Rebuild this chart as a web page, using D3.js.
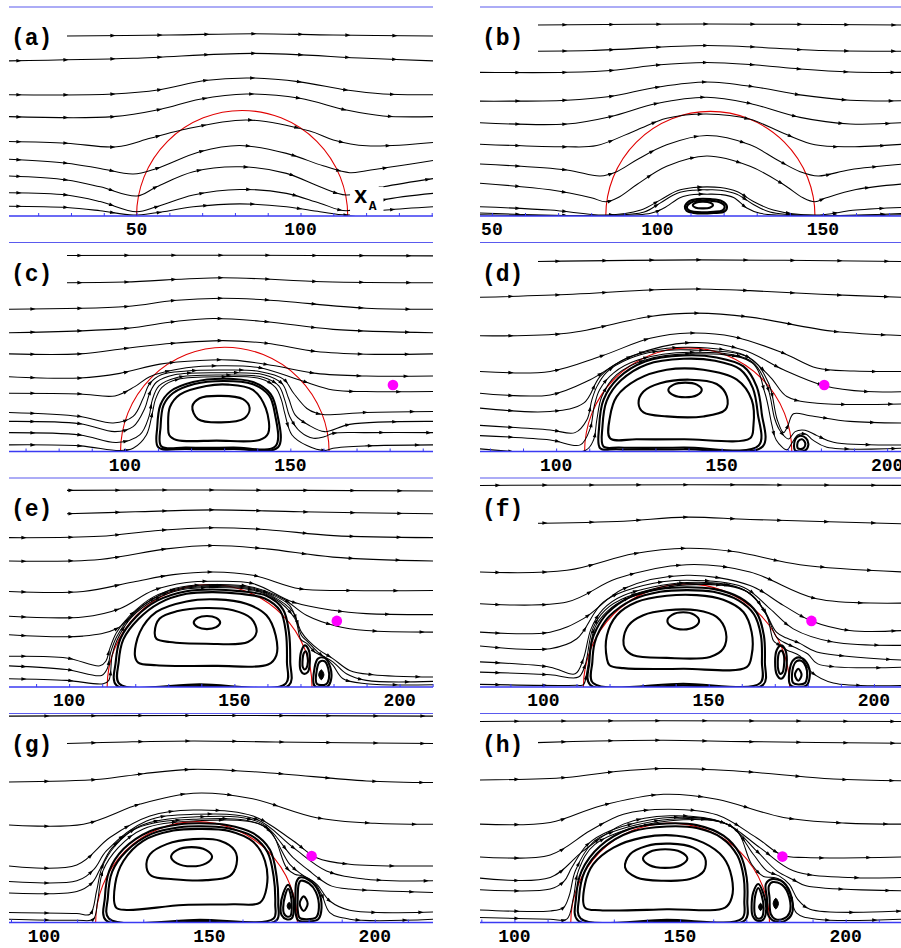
<!DOCTYPE html>
<html><head><meta charset="utf-8">
<script src="https://cdn.jsdelivr.net/npm/d3@7"></script>
<style>body{margin:0;background:#fff}svg{display:block}</style>
</head><body>
<svg id="chart" width="901" height="948"></svg>
<script>
// ---------------- data ----------------
const panelLabels = ["(a)","(b)","(c)","(d)","(e)","(f)","(g)","(h)"];
const xDomains = [[11.1,140.4],[46.4,174.5],[65.0,193.1],[77.0,205.1],[81.8,210.1],[80.8,209.1],[89.4,217.6],[89.6,217.6]];
const tickLabels = [[50,100],[50,100,150],[100,150],[100,150,200],[100,150,200],[100,150,200],[100,150,200],[100,150,200]];
const circleX = [82.2,116.0,130.2,139.9,142.5,143.3,146.1,147.0];
const circleR = [32.2,31.6,31.5,31.3,31.0,31.2,30.5,30.0];
const dotX = [null,null,181.0,181.0,181.0,181.1,180.9,180.9];
const dotY = [null,null,20.1,20.1,20.0,20.0,20.1,19.9];

const streamA = [
 [[28.7,54.9],[60,55.2],[85.6,55.6],[110,55.2],[140.4,54.9]],
 [[11.1,47.3],[49,48.1],[85.6,49.6],[120,48.1],[140.4,47.3]],
 [[11.1,37.0],[42.9,37.2],[57,38.5],[70.8,41.3],[84.6,42.1],[99.8,40.9],[114,38.4],[125.2,37.2],[140.4,37.0]],
 [[11.1,30.3],[42.9,30.3],[57.1,32.5],[69.3,35.6],[83.5,37.2],[99.8,35.9],[114,32.3],[125.2,30.5],[140.4,30.3]],
 [[11.1,22.7],[28.7,22.2],[43.9,21.1],[54.1,23.7],[63.2,26.1],[83.5,29.3],[102.8,25.9],[110,23.2],[120.1,21.4],[140.4,22.4]],
 [[11.1,17.3],[28.7,16.1],[38.9,14.5],[49,12.8],[56.1,14.5],[69.3,19.6],[81.5,21.5],[95.7,19.1],[106.9,15.3],[115,13.2],[120.1,13.8],[140.4,16.9]],
 [[11.1,12.2],[28.7,11.0],[38.9,8.9],[50.1,6.1],[56.1,8.9],[67.3,13.5],[81.5,15.0],[95.7,13.0],[105.9,8.9],[114,6.4],[125.2,8.9],[140.4,11.4]],
 [[11.1,7.1],[28.7,6.4],[38.9,4.4],[50,1.3],[56.1,2.8],[67.3,6.4],[81.5,8.1],[95.7,6.9],[105.9,3.9],[114,1.6],[125.2,4.9],[140.4,6.9]],
 [[11.1,3.0],[28.7,2.6],[38.9,1.6],[49,0.3],[56.1,1.0],[67.3,2.8],[81.5,3.7],[95.7,2.8],[105.9,1.3],[114,0.3],[126.2,1.8],[140.4,2.8]]
];
const loopsA = [];
const blobsA = [];

const streamB = [
 [[63.5,57.7],[115,58.0],[174.5,57.7]],
 [[46.4,49.8],[80,50.0],[115,51.5],[150,50.0],[174.5,49.8]],
 [[46.4,43.4],[72.6,43.4],[87.7,44.1],[99.8,45.6],[114.9,46.4],[130,45.6],[143.1,44.4],[158.2,43.5],[174.5,43.4]],
 [[46.4,34.7],[72.6,35.0],[85.7,36.1],[99.8,38.9],[114.9,40.5],[130,38.9],[143.1,36.6],[158.2,35.0],[174.5,34.8]],
 [[46.4,28.2],[72.6,27.8],[85.7,30.0],[99.8,34.0],[114.9,35.9],[128,34.0],[143.1,29.8],[158.2,27.8],[174.5,28.2]],
 [[46.4,21.7],[72.6,20.9],[81.7,21.3],[93.8,26.0],[102.8,29.5],[114.9,30.8],[128,29.2],[138.1,25.0],[147.6,21.5],[158.2,20.9],[174.5,21.7]],
 [[46.4,15.7],[72.6,13.9],[82.7,12.1],[87.7,13.4],[93.8,17.0],[102.8,21.5],[114.9,24.3],[128,21.5],[136.1,17.0],[143.1,13.4],[148.6,12.1],[158.2,14.0],[174.5,15.7]],
 [[46.4,9.9],[67.6,7.9],[80,5.5],[84.4,4.3],[88,5.5],[93.8,9.5],[102.8,15.0],[114.9,18.1],[128,15.0],[138.1,9.5],[144,5.5],[147.6,4.3],[151,5.5],[160,8.0],[174.5,9.7]],
 [[46.4,2.8],[67.6,1.8],[84.4,0.3],[95,1.8],[100.8,4.8],[106,7.6],[111,8.6],[115,8.8],[119,8.6],[124,7.4],[129,4.4],[135,1.8],[147.6,0.3],[160,1.8],[174.5,2.6]],
 [[46.4,0.9],[84.4,0.15],[96,1.2],[100.8,3.9],[106,6.9],[111,7.8],[115,7.9],[119,7.8],[124,6.6],[129,3.5],[134,1.2],[147.6,0.15],[174.5,0.8]],
 [[46.4,0.4],[84.4,0.1],[98,0.8],[102,2.4],[107,5.6],[111,6.5],[115,6.6],[119,6.5],[123,5.6],[127,2.4],[131,0.8],[147.6,0.1],[174.5,0.4]]
];
const loopsB = [
 [[108.3,2.8],[109.5,4.4],[112,5.1],[116,5.1],[119.5,4.5],[121,3.0],[120.3,1.4],[117,0.9],[111,0.9],[108.8,1.6]],
 [[108.9,2.8],[110,4.0],[112.2,4.6],[116,4.6],[119,4.1],[120.3,3.0],[119.7,1.7],[117,1.3],[111,1.3],[109.3,1.9]],
 [[110.7,3.3],[111.8,4.1],[113.8,4.3],[116,4.0],[116.8,3.3],[115.8,2.5],[113.8,2.3],[111.6,2.5]]
];
const blobsB = [];

const streamC = [
 [[82.4,59.2],[129.2,59.3],[193.1,59.1]],
 [[82.4,51.0],[100,51.2],[129.2,52.5],[160,51.3],[193.1,51.0]],
 [[65,43.0],[100.5,43.8],[114.6,45.6],[129.2,46.3],[142.8,45.8],[172.9,43.3],[193.1,43.0]],
 [[65,35.9],[100.5,37.2],[114.6,39.2],[126.7,40.2],[142.8,39.2],[162.9,36.9],[193.1,35.9]],
 [[65,29.5],[86.4,29.5],[100.5,31.2],[114.6,32.7],[129.7,33.5],[142.8,32.7],[157.8,30.2],[172.9,29.4],[193.1,29.5]],
 [[65,22.6],[86.4,22.2],[98.5,23.6],[110.6,26.4],[122.6,27.5],[132.7,27.6],[144.8,26.0],[157.8,23.6],[172.9,22.8],[193.1,22.8]],
 [[65,17.6],[86.4,17.4],[97,16.8],[103,19.6],[107.5,22.6],[118.6,25.3],[129.2,25.9],[140.7,25.3],[152.8,21.6],[162.9,18.6],[172.9,18.1],[193.1,18.1]],
 [[65,11.8],[86.4,10.6],[96.5,8.6],[102.5,10.6],[105.5,16],[107.5,20.5],[111,23.2],[118.6,24.3],[129.2,24.6],[140.7,24.2],[148,21.8],[151,17.6],[155,13],[157.8,11.6],[160.4,11.1],[172.9,11.8],[193.1,12.1]],
 [[65,9.1],[86.4,8.4],[97,6.0],[102.5,7.5],[106,13],[107.5,17.6],[109.6,21],[115,23.2],[129.2,23.8],[142,23.2],[147.5,20.5],[149.5,16],[151.5,11],[155.5,8.0],[160.4,6.0],[167.9,8.2],[193.1,9.1]],
 [[65,5.7],[86.4,5.0],[97.5,2.7],[104.5,5.0],[107.3,10.6],[108.3,15.6],[110.3,19.8],[115.5,22.3],[129.2,23.1],[141.5,22.5],[146.5,19.8],[148.3,15.6],[149.8,10.6],[153,6.0],[157,4.0],[160.4,4.5],[162.9,5.5],[172.9,5.7],[193.1,5.7]],
 [[65,2.0],[86.4,1.7],[98.5,0.3],[102.5,1.0],[106.5,5.0],[108.3,11.6],[109.2,15.6],[111.2,19.4],[116,21.8],[129.2,22.6],[141,22.0],[145.5,19.4],[147.3,15.6],[148.3,11.6],[150.5,5.0],[155,1.8],[160.4,0.3],[162.9,1.0],[172.9,1.7],[193.1,2.0]]
];
const loopsC = [
 [[110.1,1.3],[109.8,7.5],[110.8,14.2],[113.8,18.2],[120.6,21.0],[130.0,22.0],[138.7,21.0],[144.0,17.4],[146.0,11.6],[146.3,1.3],[132.7,0.8],[118.6,0.8]],
 [[111,1.6],[110.8,7.5],[111.7,14.0],[114.5,17.6],[121,20.4],[130.0,21.3],[138.5,20.4],[143.5,17.0],[145.3,11.6],[145.5,1.6],[132.7,1.2],[118.6,1.2]],
 [[113.1,7.5],[113.6,13.4],[116.6,17.2],[124.6,19.8],[131.2,20.2],[138.7,18.6],[142.6,13.0],[143.3,5.5],[140.7,3.5],[127.7,3.3],[115.6,3.5],[113.4,5.0]],
 [[120.4,13.6],[122.6,16.1],[129.1,16.8],[135.7,15.8],[137.7,13.1],[136.2,10.1],[129.1,8.8],[122.1,9.8]]
];
const blobsC = [];

const streamD = [
 [[94.2,57.4],[142.5,57.9],[205.1,57.4]],
 [[77.0,46.6],[105,47.5],[128.4,48.8],[142.5,49.1],[158.6,48.6],[180,47.5],[205.1,46.6]],
 [[77,35.0],[103.2,35.7],[128.4,40.8],[142.5,41.8],[158.6,40.6],[183.8,36.3],[205.1,35.0]],
 [[77,24.2],[98.2,24.2],[113.3,28.7],[128.4,34.2],[140.5,35.8],[153.6,34.7],[168.7,29.7],[178.8,25.2],[190,24.3],[205.1,24.2]],
 [[77,17.6],[98.2,17.1],[110.3,21.7],[122.4,28.7],[140.5,32.9],[156.6,30.7],[168.7,24.7],[181.0,19.9],[193.9,18.1],[205.1,18.1]],
 [[77,13.1],[98.2,12.1],[108.3,14.6],[113.3,22.7],[120,27.5],[128,30.3],[140.5,31.5],[156.6,29.2],[164.7,22.5],[169.7,16.6],[178.8,14.6],[205.1,14.4]],
 [[77,7.9],[98.2,6.5],[105.7,5.7],[109.3,9.6],[110.8,15.6],[112.3,19.6],[115.3,24.0],[122,28.0],[130,30.2],[140.5,30.7],[158.6,28.2],[164.2,20.6],[166.8,9.6],[168.7,5.7],[169.9,7.5],[171.7,11.4],[176.7,10.8],[188.8,9.1],[205.1,8.6]],
 [[77,4.8],[98.2,3.5],[107.3,2.0],[110.3,7.0],[111.5,13.6],[113.1,18.6],[117.3,23.7],[124.9,27.7],[140.5,30.0],[158.6,27.5],[163.8,19.6],[166.0,10],[167.5,6.5],[170.2,3.8],[172.2,6.0],[175.2,6.4],[178.8,4.8],[183.8,2.8],[205.1,2.0]],
 [[77,0.8],[108.8,0.3],[111.3,3.5],[112.3,9.6],[113.8,16.6],[118.3,23.2],[126.4,27.5],[140.5,29.5],[159.1,26.9],[163.1,17.6],[165.2,8],[166.5,3.5],[169.7,0.5],[171.2,2.5],[173,5.0],[175.5,5.2],[177.5,3.5],[181.8,1.3],[205.1,1.0]]
];
const loopsD = [
 [[113.3,1.0],[113.0,7.6],[114.3,15.6],[118.8,22.2],[126.9,27.2],[138.5,29.0],[148.5,28.4],[156.6,25.7],[160.6,19.6],[162.1,11.6],[162.4,1.5],[138.5,0.7],[118.3,0.7]],
 [[114.3,1.5],[114.0,7.6],[115.3,15.4],[119.6,21.5],[127.4,26.3],[138.5,28.0],[148,27.4],[155.6,24.8],[159.4,19.2],[160.9,11.6],[161.2,1.8],[138.5,1.2],[119,1.2]],
 [[116.3,4.0],[116.3,10.6],[118.3,16.6],[124.4,21.7],[133.4,24.7],[144.5,24.7],[154.6,21.7],[159.1,15.6],[159.6,7.6],[158.6,4.0],[138.5,3.7],[124.4,3.7]],
 [[124.9,14.6],[126.4,18.1],[131.4,20.6],[140.5,21.7],[148.5,20.4],[151.6,16.6],[151.1,12.6],[144.5,10.6],[133.4,10.6],[126.4,11.8]],
 [[133.9,18.6],[135.5,20.2],[139,20.8],[142.5,20.2],[144,18.6],[142.5,17.0],[139,16.4],[135.5,17.0]],
 [[172.2,0.3],[172.2,3.5],[173.5,4.7],[175.5,4.0],[176.2,2.0],[175.2,0.3]],
 [[173.0,1.0],[173.1,3.0],[174.3,3.7],[175.3,2.4],[174.6,0.9]]
];
const blobsD = [];

const streamE = [
 [[99.2,59.5],[143.5,59.6],[210.1,59.3]],
 [[99.2,52.4],[120,53.0],[143.5,53.6],[170,53.0],[210.1,52.4]],
 [[81.8,45.2],[109.3,45.6],[126,47.3],[143.5,48.2],[160,47.6],[180,45.8],[210.1,45.2]],
 [[81.8,38.1],[109.3,38.6],[129.4,41.8],[143.5,42.8],[159.7,41.8],[179.8,39.3],[210.1,38.1]],
 [[81.8,28.9],[104.2,28.9],[119.4,31.8],[131.5,34.0],[143.5,34.8],[155.6,33.8],[169.8,29.7],[184.9,29.2],[210.1,29.2]],
 [[81.8,21.4],[104.2,21.2],[115.3,23.7],[125.4,29.2],[135.5,31.6],[143.5,32.0],[155.6,31.3],[167.7,25.7],[179.8,23.2],[189.9,22.2],[210.1,21.9]],
 [[81.8,15.8],[104.2,15.4],[114.3,17.6],[122.4,24.7],[131.5,29.7],[143.5,31.0],[155.6,30.2],[164.7,26.7],[171.8,21.7],[181.0,18.4],[189.9,17.1],[210.1,16.6]],
 [[81.8,9.3],[99.2,8.8],[109.3,6.4],[111.1,7.8],[112.3,11.6],[114.3,16.4],[118.3,21.5],[125.4,27.2],[134,30.0],[143.5,30.7],[155,30.0],[161.2,28.0],[166.7,24.7],[170.3,16.6],[172.3,14.1],[175.8,11.1],[179.8,8.6],[184.9,5.0],[191.9,3.7],[210.1,3.0]],
 [[81.8,6.4],[99.2,5.3],[109.8,3.5],[111.5,5.5],[112.6,10.6],[114.5,15.4],[119.4,22.2],[126,27.0],[134,29.7],[143.5,30.4],[155,29.7],[161.5,27.5],[167.7,22.7],[170.3,15.6],[172.3,13.6],[175.8,10.1],[179.8,7.6],[183.9,4.0],[189.9,2.0],[210.1,1.7]],
 [[81.8,2.5],[99.2,2.0],[110.3,1.0],[112.0,2.0],[113.0,9.6],[114.4,14.0],[118.8,21.0],[126,26.5],[134,29.4],[143.5,30.1],[155,29.4],[161.8,27.0],[168.3,20.7],[170.1,14.4],[172.0,13.1],[174.3,10.6],[177.3,9.0],[179.8,6.6],[182.9,2.5],[189.9,1.0],[210.1,0.7]]
];
const loopsE = [
 [[114.3,0.5],[114.1,7.6],[115.5,14.6],[120.2,21.2],[126.8,26.2],[135.5,29.0],[143.5,29.5],[151.6,29.0],[159.7,27.6],[164.7,23.5],[166.5,16.6],[166.9,7.6],[166.5,0.5],[139.5,0.3]],
 [[115.2,1.0],[115.0,7.6],[116.4,14.4],[120.9,20.5],[127.3,25.4],[135.5,28.2],[143.5,28.7],[151.6,28.2],[159.2,26.8],[163.9,23],[165.6,16.4],[165.9,7.6],[165.5,1.0],[139.5,0.8]],
 [[119.9,9.6],[121.4,16.6],[126.4,22.7],[135.5,25.9],[144.6,26.5],[153.6,25.2],[159.7,21.7],[162.5,15.6],[162.7,9.6],[160.2,6.8],[144.6,6.4],[126.4,6.6],[120.9,7.4]],
 [[125.9,16.6],[127.4,20.7],[132.5,22.9],[141.5,23.9],[149.6,23.2],[155.1,20.7],[156.7,16.6],[154.1,13.6],[141.5,13.1],[130.4,13.6],[126.4,14.6]],
 [[137.7,19.5],[138.9,20.9],[141.7,21.5],[144.5,20.9],[145.7,19.5],[144.5,18.1],[141.7,17.5],[138.9,18.1]],
 [[169.8,7.5],[170.3,11.0],[171.3,12.6],[172.5,11.2],[172.8,7.0],[172.2,4.5],[171.0,4.0],[170.0,5.2]],
 [[170.6,7.6],[171,10.2],[171.6,10.8],[172.1,9.5],[172.1,6.5],[171.3,5.3],[170.7,6.0]],
 [[174.3,0.3],[174.3,6.0],[175.3,8.6],[177.3,8.8],[179.0,6.0],[179.3,2.5],[178.3,0.3]],
 [[175.0,0.9],[175.0,5.5],[175.8,7.6],[177.3,7.8],[178.4,5.6],[178.6,2.5],[177.8,0.9]]
];
const blobsE = [
 [[175.5,3.7],[176.3,5.2],[177.1,3.7],[176.3,2.2]]
];

const streamF = [
 [[80.8,61.0],[143.3,61.2],[209.1,61.0]],
 [[80.8,49.4],[122.2,50.1],[143.3,51.4],[162.5,50.7],[209.1,49.4]],
 [[80.8,34.8],[107.1,35.3],[127.2,40.3],[143.3,42.0],[157.5,41.0],[177.6,37.0],[209.1,34.8]],
 [[80.8,25.2],[107.1,25.7],[122.2,32.8],[143.3,37.0],[162.5,34.8],[182.7,26.7],[209.1,25.4]],
 [[80.8,16.6],[102.0,16.6],[112.1,20.7],[124.2,29.7],[143.3,33.8],[162.5,30.7],[172.6,24.7],[181.1,20.0],[192.7,17.1],[209.1,17.1]],
 [[80.8,12.4],[102,11.6],[110.1,14.6],[118.1,25.7],[130.2,30.7],[143.3,32.3],[160.5,30.2],[168.5,23.7],[175.6,17.6],[187.7,13.6],[209.1,12.6]],
 [[80.8,7.6],[102,6.0],[109.6,4.0],[112.1,8.6],[114.4,17.6],[118,23.5],[124.2,27.7],[143.3,31.6],[160.5,29.5],[166.5,23.7],[170.5,16.6],[173.6,14.8],[177.6,13.2],[182.7,10.6],[209.1,8.1]],
 [[80.8,4.5],[102,3.7],[110.6,3.0],[112.6,6.6],[114.9,17.6],[118.6,23.2],[125.2,27.2],[143.3,31.3],[161,29.2],[167,22.7],[170.6,15.0],[172.6,13.6],[176,12.0],[180,10.0],[183,7.0],[209.1,6.0]],
 [[80.8,0.8],[110.1,0.5],[112.1,0.7],[113.3,5.5],[115.4,17.6],[119.2,22.8],[125.7,26.9],[143.3,30.9],[161.5,28.9],[167.5,21.7],[169.6,14.0],[171,12.9],[173.6,11.2],[177.6,9.4],[181.1,4.5],[187.7,1.2],[209.1,0.5]]
];
const loopsF = [
 [[114.1,0.7],[113.9,7.6],[114.6,13.6],[116.1,17.6],[119.2,22.2],[126.2,27.2],[135.3,29.7],[143.3,30.2],[151.4,29.7],[159.5,27.0],[164.5,22.5],[166.7,15.6],[167.0,7.6],[166.5,0.7],[142.3,0.5]],
 [[115,1.2],[114.8,7.6],[115.5,13.4],[117,17.2],[120,21.5],[126.8,26.3],[135.3,28.8],[143.3,29.3],[151.4,28.8],[159,26.2],[163.7,22],[165.8,15.6],[166.1,7.6],[165.6,1.2],[142.3,1.0]],
 [[119.2,8.6],[119.2,15.6],[122.2,21.7],[128.2,25.7],[137.3,27.6],[146.4,27.8],[154.4,26.4],[160.5,22.7],[163.0,16.6],[163.0,9.6],[161.5,6.0],[142.3,5.5],[124.2,5.7],[120.0,6.6]],
 [[124.2,14.1],[125.7,18.6],[130.2,21.7],[137.3,23.2],[146.4,23.2],[152.4,21.2],[155.2,16.6],[154.4,11.6],[150.4,9.1],[137.3,8.8],[127.2,9.6],[124.7,11.6]],
 [[137.5,20.0],[138.9,21.8],[142.3,22.6],[145.7,21.8],[147.1,20.0],[145.7,18.2],[142.3,17.4],[138.9,18.2]],
 [[170.1,7.6],[170.6,11.2],[171.9,12.6],[173.2,11.2],[173.6,6.6],[172.9,3.5],[171.9,2.5],[170.6,3.8]],
 [[170.9,7.6],[171.3,10.4],[172,11],[172.7,9.8],[172.8,6.6],[172.3,4.3],[171.6,4.0],[171.1,5.0]],
 [[174.8,0.5],[174.8,6.6],[176.1,8.6],[178.1,8.8],[180.1,6.6],[180.6,3.5],[179.6,0.5]],
 [[175.6,1.2],[175.6,6.2],[176.6,7.8],[178.1,7.9],[179.4,6.2],[179.8,3.5],[179.1,1.2]],
 [[176.1,3.7],[177.1,5.5],[178.1,3.7],[177.1,1.9]]
];
const blobsF = [];

const streamG = [
 [[89.4,62.4],[145.1,62.6],[217.6,62.4]],
 [[106.8,54.1],[125,54.6],[145.1,54.9],[170,54.6],[217.6,54.1]],
 [[89.4,42.5],[116.9,43.3],[130,45],[145.1,46.3],[167.3,45.3],[197.5,42.8],[217.6,42.3]],
 [[89.4,29.5],[111.9,29.7],[129.0,35.8],[145.1,39.1],[162.2,37.6],[182.4,31.7],[200,30],[217.6,29.7]],
 [[89.4,17.1],[109.9,17.4],[119.9,25.7],[132.0,32.2],[145.1,34.0],[163.2,32.2],[175.3,24.7],[182.4,19.6],[192.4,17.6],[217.6,17.1]],
 [[89.4,12.4],[109.9,12.6],[115,16],[118.9,21.7],[131.0,30.7],[145.1,32.7],[164.2,31.2],[175.3,22.7],[185.4,15.6],[197.5,13.1],[217.6,12.6]],
 [[89.4,8.9],[109.9,9.4],[114.5,12],[116.9,16.1],[120.5,22.5],[129,29.2],[145.1,31.9],[165.3,30.2],[175.3,19.6],[180,15.8],[183.4,13.1],[187,11],[192.4,10.1],[217.6,9.1]],
 [[89.4,3.0],[109.9,2.7],[113.9,2.5],[115.9,9.6],[117.5,16.6],[121.5,23.2],[128,28.5],[145.1,31.2],[166.3,29.2],[174.3,17.6],[177.8,14.6],[182.4,11.6],[186.4,6.5],[192.4,3.7],[217.6,3.2]],
 [[89.4,1.0],[109.9,0.7],[114.9,1.0],[116.2,6.5],[117.8,15.6],[122.5,22.7],[130,28.3],[145.1,30.7],[167.3,28.7],[173.3,16.6],[175.8,14.6],[178.5,14.0],[181.4,12.4],[183.9,8.6],[186.4,3.0],[192.4,1.0],[217.6,1.0]]
];
const loopsG = [
 [[118.7,0.7],[118.4,7.6],[119.7,15.6],[124.0,22.2],[132.0,27.6],[141.1,29.7],[147.1,30.0],[155.2,29.5],[163.2,27.0],[168.3,22],[170.3,14],[170.8,5.5],[170.3,0.7],[147.1,0.3]],
 [[119.6,1.2],[119.3,7.6],[120.6,15.4],[124.8,21.5],[132.5,26.8],[141.1,28.8],[147.1,29.1],[155.2,28.6],[162.8,26.2],[167.5,21.4],[169.4,14],[169.9,5.5],[169.4,1.2],[147.1,0.8]],
 [[121.8,4.5],[121.5,11.6],[124.0,18.6],[130.0,24.7],[139.1,27.8],[147.1,28.3],[156.2,27.6],[163.2,24.4],[166.8,18.6],[167.3,10.6],[165.3,6.0],[157.2,5.5],[142.1,5.3],[125.0,3.8]],
 [[131.0,16.6],[132.0,20.6],[137.1,23.7],[145.1,25.2],[153.2,24.7],[157.7,21.7],[158.2,17.6],[156.2,14.1],[149.1,12.8],[139.1,13.1],[132.5,14.1]],
 [[138.4,19.9],[140.2,21.9],[144.6,22.8],[149.0,21.9],[150.8,19.9],[149.0,17.9],[144.6,17.0],[140.2,17.9]],
 [[171.5,4.5],[172.3,8.8],[173.8,11.4],[175.0,9.1],[175.6,4.5],[174.9,1.3],[173.3,1.0],[171.8,2.3]],
 [[172.3,4.5],[172.9,8.2],[173.8,10.2],[174.5,8.6],[174.9,4.5],[174.5,2.0],[173.4,1.8],[172.5,2.8]],
 [[176.0,7.6],[176.3,12.2],[177.3,13.6],[180.4,12.6],[182.9,9.6],[183.9,4.5],[182.9,1.0],[179.4,0.3],[176.8,0.7],[176.0,3.5]],
 [[176.7,7.6],[177.0,11.6],[177.6,12.6],[180.1,11.8],[182.2,9.2],[183.1,4.5],[182.3,1.6],[179.4,1.0],[177.3,1.4],[176.7,3.8]],
 [[177.3,5.7],[178.5,7.9],[179.7,5.7],[178.5,3.5]]
];
const blobsG = [
 [[173.5,5.0],[174.1,6.1],[174.7,5.0],[174.1,3.9]]
];

const streamH = [
 [[89.6,60.7],[145.0,60.9],[217.6,60.7]],
 [[106.7,54.3],[125,54.8],[145.0,55.0],[170,54.6],[217.6,54.1]],
 [[89.6,43.0],[115.8,43.8],[130,45.5],[145.0,46.5],[166.1,45.8],[196.3,43.3],[217.6,42.8]],
 [[89.6,29.7],[110.8,30.2],[125.9,35.2],[145.0,38.7],[161.1,37.2],[181.2,31.7],[200,30.0],[217.6,29.7]],
 [[89.6,19.8],[110.8,20.4],[122.8,27.7],[132.9,32.7],[147.0,34.2],[161.1,32.5],[173.1,25.6],[180.9,20.3],[188,19.6],[217.6,19.8]],
 [[89.6,13.4],[110.8,13.6],[120.8,21.6],[132.9,29.7],[147.0,32.2],[163.1,30.2],[174.1,22.6],[184.2,15.6],[201.3,13.6],[217.6,13.6]],
 [[89.6,9.9],[110.8,10.1],[115,12.5],[117.3,16.6],[122,23.5],[128.9,27.7],[147.0,31.7],[164.1,29.7],[173.1,21.6],[179.2,15.6],[184,13],[188,11.1],[217.6,9.6]],
 [[89.6,3.8],[110.8,3.5],[114.8,4.5],[116.5,8],[118.4,15.6],[123.5,24],[127.9,26.7],[147.0,31.2],[165.1,29.2],[172.1,20.6],[176.2,15.6],[180,14.0],[183,11.5],[185.5,7.0],[189.2,4.0],[217.6,3.5]],
 [[89.6,1.5],[110.8,1.0],[115.8,1.0],[117.8,7.5],[119.3,15.6],[124.3,23.6],[147.0,30.7],[166.1,28.7],[171.6,17.6],[175.2,13.9],[178.2,13.6],[181,12.4],[183.2,8.5],[185.2,2.8],[191.2,1.0],[217.6,1.0]]
];
const loopsH = [
 [[119.1,0.7],[118.6,7.5],[120.3,15.6],[125.9,23.1],[134.9,28.3],[146.0,29.9],[155.0,29.4],[163.1,26.2],[168.1,20.6],[170.1,13.6],[170.3,6.5],[169.6,0.7],[146.0,0.3]],
 [[120.0,1.2],[119.5,7.5],[121.2,15.4],[126.6,22.4],[135.3,27.4],[146.0,29.0],[155.0,28.5],[162.6,25.5],[167.3,20.2],[169.2,13.6],[169.4,6.5],[168.7,1.2],[146.0,0.8]],
 [[121.3,4.5],[121.3,11.6],[123.8,17.6],[129.9,22.6],[138.9,25.7],[149.0,26.2],[157.0,24.1],[163.1,19.6],[165.6,13.6],[165.6,7.5],[163.6,4.5],[146.0,4.0],[125.9,3.7]],
 [[133.4,16.6],[134.9,20.6],[139.9,23.1],[147.0,23.8],[154.0,22.6],[157.5,19.6],[157.2,15.6],[153.0,13.1],[145.0,12.6],[136.9,13.6]],
 [[138.8,19.3],[140.8,21.3],[145.5,22.1],[150.2,21.3],[152.2,19.3],[150.2,17.3],[145.5,16.5],[140.8,17.3]],
 [[171.6,4.5],[172.1,9.1],[173.6,11.6],[175.2,8.6],[176.0,4.0],[175.2,1.0],[173.3,0.5],[171.9,2.0]],
 [[172.4,4.5],[172.8,8.6],[173.6,10.4],[174.6,8.3],[175.2,4.0],[174.7,1.6],[173.4,1.2],[172.6,2.3]],
 [[176.2,7.5],[175.9,11.6],[177.7,13.1],[181.2,12.1],[183.7,7.5],[183.7,2.5],[181.7,0.5],[178.7,0.3],[176.7,2.0]],
 [[177.0,7.5],[176.8,11],[178,12.2],[180.9,11.3],[183,7.5],[183,2.8],[181.4,1.2],[178.8,1.0],[177.4,2.5]]
];
const blobsH = [
 [[173.7,4.7],[174.3,5.8],[174.9,4.7],[174.3,3.6]],
 [[178.1,5.7],[178.9,7.3],[179.7,5.7],[178.9,4.1]]
];

const allStreams = [streamA,streamB,streamC,streamD,streamE,streamF,streamG,streamH];
const allLoops = [loopsA,loopsB,loopsC,loopsD,loopsE,loopsF,loopsG,loopsH];
const allBlobs = [blobsA,blobsB,blobsC,blobsD,blobsE,blobsF,blobsG,blobsH];

// ---------------- layout / style ----------------
const PW = 424, PH = 209;
const colLeft = [9, 480];
const rowTop = [7, 242.5, 478, 713.5];
const arrowPhase = [10, 38, 24, 31, 15, 18, 38, 37];
const FONT = "'Liberation Mono','DejaVu Sans Mono',monospace";
const AXIS_BLUE = "#3a3af2", TOP_BLUE = "#5a5aee";

const svg = d3.select("#chart");
const defs = svg.append("defs");

panelLabels.forEach((label, i) => {
  const left = colLeft[i % 2], top = rowTop[Math.floor(i / 2)], axisY = top + PH;
  const x = d3.scaleLinear().domain(xDomains[i]).range([left, left + PW]);
  const ppu = PW / (xDomains[i][1] - xDomains[i][0]);
  const y = d3.scaleLinear().domain([0, PH / ppu]).range([axisY, top]);
  const g = svg.append("g");

  defs.append("clipPath").attr("id", "clip" + i).append("rect")
    .attr("x", left).attr("y", top).attr("width", PW).attr("height", PH);

  g.append("line").attr("x1", left).attr("x2", left + PW).attr("y1", top).attr("y2", top)
    .attr("stroke", TOP_BLUE).attr("stroke-width", 1.2);

  const body = g.append("g").attr("clip-path", `url(#clip${i})`);

  const cx = circleX[i], r = circleR[i];
  const rPx = x(cx + r) - x(cx);
  body.append("path")
    .attr("d", `M${x(cx - r)},${y(0)} A${rPx},${rPx} 0 0 1 ${x(cx + r)},${y(0)}`)
    .attr("fill", "none").attr("stroke", "#e00000").attr("stroke-width", 1.1);

  const line = d3.line().x(d => x(d[0])).y(d => y(d[1])).curve(d3.curveCatmullRom.alpha(0.5));
  allStreams[i].forEach(pts => {
    const p = body.append("path").attr("d", line(pts)).attr("fill", "none")
      .attr("stroke", "#000").attr("stroke-width", 1.05);
    const node = p.node(), L = node.getTotalLength();
    const startOff = x(pts[0][0]) - left;
    let s = ((arrowPhase[i] - startOff) % 47 + 47) % 47;
    for (; s < L - 4; s += 47) {
      const a = node.getPointAtLength(Math.max(0, s - 1)), b = node.getPointAtLength(s + 1);
      const ang = Math.atan2(b.y - a.y, b.x - a.x) * 180 / Math.PI;
      const c = node.getPointAtLength(s);
      body.append("path").attr("d", "M2.6,0L-2.6,-1.8L-2.6,1.8Z").attr("fill", "#000")
        .attr("transform", `translate(${c.x},${c.y}) rotate(${ang})`);
    }
  });

  const loop = d3.line().x(d => x(d[0])).y(d => y(d[1])).curve(d3.curveCatmullRomClosed.alpha(0.5));
  allLoops[i].forEach(pts => {
    body.append("path").attr("d", loop(pts)).attr("fill", "none")
      .attr("stroke", "#000").attr("stroke-width", 2.1);
  });
  allBlobs[i].forEach(pts => {
    body.append("path").attr("d", loop(pts)).attr("fill", "#000").attr("stroke", "#000").attr("stroke-width", 1);
  });

  g.append("rect").attr("x", left).attr("y", top + 10).attr("width", 58).attr("height", 38).attr("fill", "#fff");
  g.append("text").attr("x", left + 2).attr("y", top + 38).text(label)
    .attr("font-family", FONT).attr("font-weight", "bold").attr("font-size", 23).attr("fill", "#000");

  if (i === 0) {
    g.append("rect").attr("x", x(115.1)).attr("y", y(9.0)).attr("width", x(125.3) - x(115.1))
      .attr("height", y(0.3) - y(9.0)).attr("fill", "#fff");
    g.append("text").attr("x", x(116.2)).attr("y", y(3.9)).text("x")
      .attr("font-family", FONT).attr("font-weight", "bold").attr("font-size", 23);
    g.append("text").attr("x", x(120.8)).attr("y", y(1.7)).text("A")
      .attr("font-family", FONT).attr("font-weight", "bold").attr("font-size", 13);
  }

  const ticks = d3.range(Math.ceil(xDomains[i][0] / 10) * 10, xDomains[i][1], 10);
  const axis = d3.axisBottom(x).tickValues(ticks).tickSize(-3).tickFormat("");
  const ag = g.append("g").attr("transform", `translate(0,${axisY})`).call(axis);
  ag.select(".domain").attr("stroke", AXIS_BLUE).attr("stroke-width", 1.6)
    .attr("d", `M${left},0H${left + PW}`);
  ag.selectAll(".tick line").attr("stroke", AXIS_BLUE).attr("stroke-width", 1);

  tickLabels[i].forEach(v => {
    g.append("text").attr("x", x(v)).attr("y", axisY + 19).attr("text-anchor", "middle")
      .text(v).attr("font-family", FONT).attr("font-weight", "bold").attr("font-size", 18).attr("fill", "#000");
  });

  if (dotX[i] !== null) {
    g.append("circle").attr("cx", x(dotX[i])).attr("cy", y(dotY[i])).attr("r", 5.3).attr("fill", "#ff00ff");
  }
});
</script>
</body></html>
